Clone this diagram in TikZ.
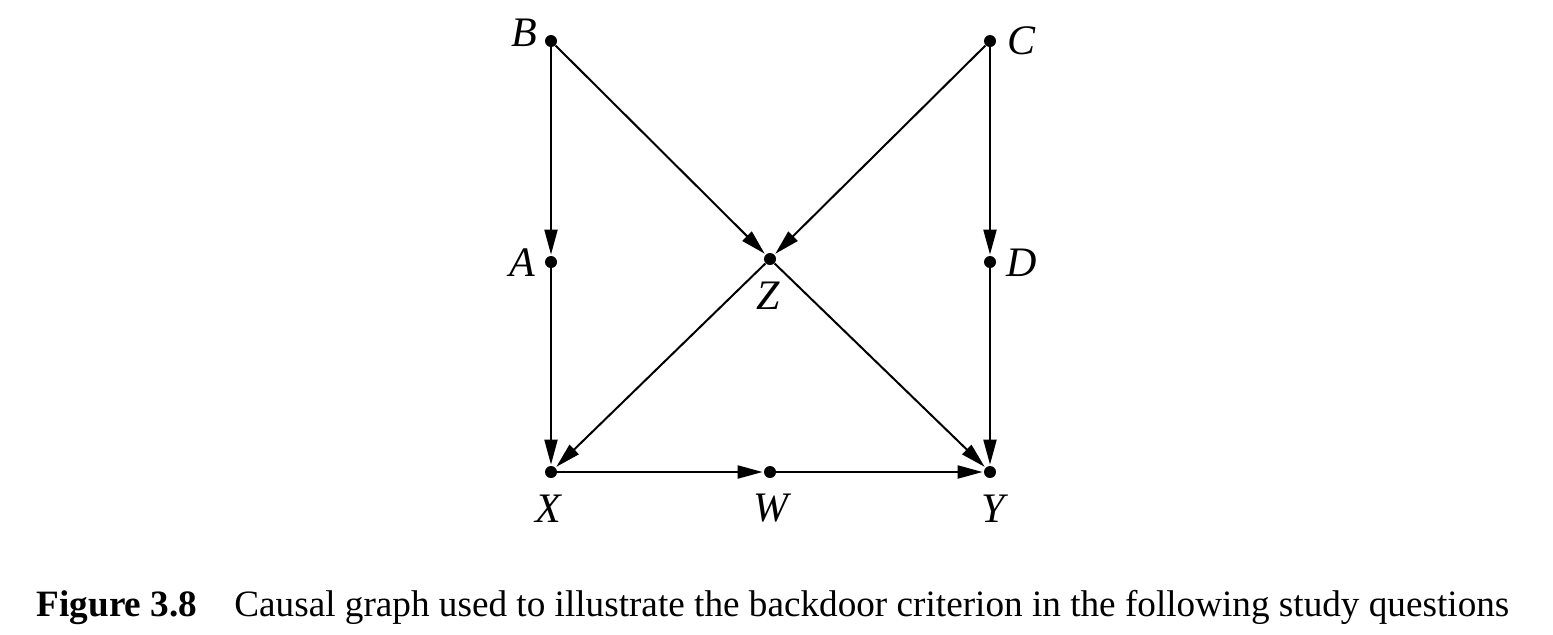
\documentclass[tikz,border=0pt]{standalone}
\usepackage{fontspec}
\setmainfont{Liberation Serif}
\usepackage{tikz}
\usetikzlibrary{arrows.meta}

\begin{document}
\begin{tikzpicture}[x=0.5pt,y=-0.5pt,
		dot/.style={circle,fill=black,inner sep=0pt,minimum size=6pt},
		lbl/.style={font=\fontsize{21}{24}\selectfont\itshape,inner sep=0pt},
		edge/.style={line width=1pt,-{Triangle[length=12.5pt,width=6.5pt]},shorten >=0.5pt}]
		\useasboundingbox (0,0) rectangle (1553,634);
		\node[dot] (B) at (551,41) {};
		\node[dot] (C) at (990,41) {};
		\node[dot] (A) at (551,262) {};
		\node[dot] (Z) at (770,259) {};
		\node[dot] (D) at (990,262) {};
		\node[dot] (X) at (551,472) {};
		\node[dot] (W) at (770,472) {};
		\node[dot] (Y) at (990,472) {};
		\node[lbl] (lB) at (524,33) {B};
		\node[lbl] (lC) at (1021,41) {C};
		\node[lbl] (lA) at (522,263) {A};
		\node[lbl] (lD) at (1022,263) {D};
		\node[lbl] (lZ) at (768,296) {Z};
		\node[lbl] (lX) at (548,509) {X};
		\node[lbl] (lW) at (771,508) {W};
		\node[lbl] (lY) at (993,509) {Y};
		\draw[edge] (B) -- (A);
		\draw[edge] (B) -- (Z);
		\draw[edge] (C) -- (Z);
		\draw[edge] (C) -- (D);
		\draw[edge] (A) -- (X);
		\draw[edge] (Z) -- (X);
		\draw[edge] (Z) -- (Y);
		\draw[edge] (D) -- (Y);
		\draw[edge] (X) -- (W);
		\draw[edge] (W) -- (Y);
		\node[font=\fontsize{18.6}{22}\selectfont,inner sep=0pt] (cap) at (773,607)
			{\textbf{Figure 3.8}\hspace{1em}Causal graph used to illustrate the backdoor criterion in the following study questions};
\end{tikzpicture}
\end{document}
